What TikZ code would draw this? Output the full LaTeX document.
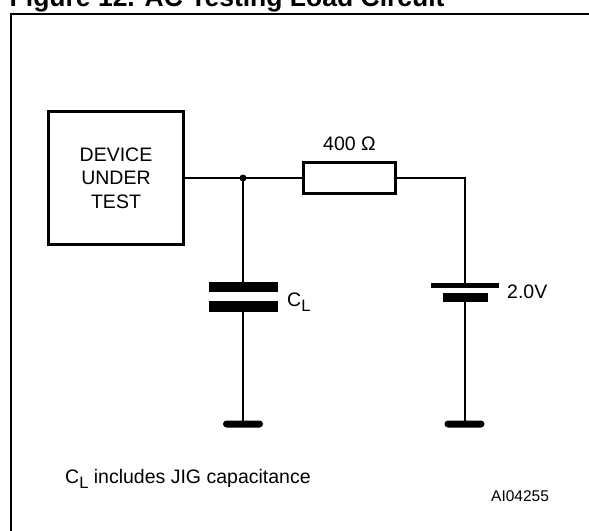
\documentclass[tikz,border=0pt]{standalone}
\usepackage{fontspec}
\setmainfont{Liberation Sans}
\newcommand{\subL}{\raisebox{-5.5bp}{\fontsize{16.5bp}{16.5bp}\selectfont L}}
\begin{document}
\begin{tikzpicture}[x=1bp,y=-1bp,
  wire/.style={line width=2bp},
  lbl/.style={inner sep=0pt,font=\fontsize{19.5bp}{23.5bp}\selectfont},
  plate/.style={fill=black,draw=none,inner sep=0pt,outer sep=0pt,rectangle},
  gndbar/.style={fill=black,draw=none,inner sep=0pt,outer sep=0pt,rectangle,rounded corners=3.5bp,minimum width=40bp,minimum height=7bp},
  box/.style={draw,line width=3bp,rectangle,inner sep=0pt}
]
\useasboundingbox (0,0) rectangle (589,531);
\clip (0,0) rectangle (589,531);
\fill[white] (0,0) rectangle (589,531);
% title (cut off at the top)
\node[inner sep=0pt,anchor=base west,font=\bfseries\fontsize{26.5bp}{30bp}\selectfont] (title) at (9.5,7) {Figure 12. AC Testing Load Circuit};
% frame
\draw[line width=2.5bp] (11,620) -- (11,14) -- (620,14);
% device under test
\node[box,lbl,align=center,minimum width=135bp,minimum height=133bp] (dut) at (116,178) {DEVICE\\UNDER\\TEST};
% resistor
\node[box,minimum width=92bp,minimum height=31bp] (res) at (349.5,178) {};
\node[lbl,anchor=base] (rlbl) at (349.5,151) {400 Ω};
% junction
\coordinate (j) at (243,178);
% capacitor
\node[plate,minimum width=69bp,minimum height=10bp] (capT) at (243.5,287) {};
\node[plate,minimum width=69bp,minimum height=11bp] (capB) at (243.5,306.5) {};
\node[lbl,anchor=base west] (cl) at (287,306) {C\subL};
% battery
\node[plate,minimum width=68bp,minimum height=5bp] (batT) at (465,285.5) {};
\node[plate,minimum width=45bp,minimum height=9bp] (batB) at (465.5,297.5) {};
\node[lbl,anchor=base west] (vl) at (507,298) {2.0V};
% grounds
\node[gndbar] (g1) at (243,424) {};
\node[gndbar] (g2) at (464.5,424) {};
% wires
\draw[wire] (dut.east) -- (res.west);
\draw[wire] (j) -- (j |- capT.north);
\draw[wire] (j |- capB.south) -- (j |- g1.north);
\draw[wire] (res.east) -| (464.5,0 |- batT.north);
\draw[wire] (464.5,0 |- batB.south) -- (464.5,0 |- g2.north);
\fill (j) circle (3.5bp);
% notes
\node[lbl,anchor=base west] (note) at (65,483) {C\subL{} includes JIG capacitance};
\node[inner sep=0pt,anchor=base west,font=\fontsize{15.5bp}{18bp}\selectfont] (code) at (491,501) {AI04255};
\end{tikzpicture}
\end{document}
